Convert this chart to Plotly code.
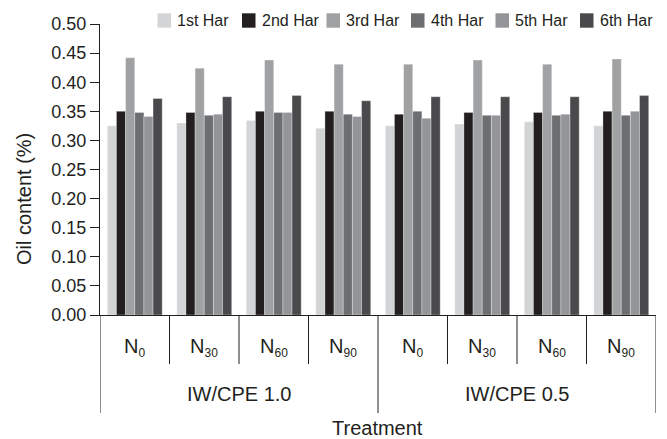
import plotly.graph_objects as go

treatments = ["IW/CPE 1.0"] * 4 + ["IW/CPE 0.5"] * 4
n_subs = ["0", "30", "60", "90"] * 2
cat_ids = [f"{t}|N{n}" for t, n in zip(treatments, n_subs)]

series_names = ["1st Har", "2nd Har", "3rd Har", "4th Har", "5th Har", "6th Har"]
har1 = [0.325, 0.330, 0.334, 0.321, 0.325, 0.328, 0.332, 0.325]
har2 = [0.350, 0.348, 0.350, 0.350, 0.345, 0.348, 0.348, 0.350]
har3 = [0.442, 0.424, 0.438, 0.431, 0.431, 0.438, 0.431, 0.440]
har4 = [0.348, 0.343, 0.348, 0.345, 0.350, 0.343, 0.343, 0.343]
har5 = [0.341, 0.345, 0.348, 0.341, 0.338, 0.343, 0.345, 0.350]
har6 = [0.372, 0.375, 0.377, 0.368, 0.375, 0.375, 0.375, 0.377]
series_values = [har1, har2, har3, har4, har5, har6]
colors = ["#d3d4d6", "#231f20", "#a0a1a3", "#6d6e70", "#939598", "#4a4a4c"]

y_ticks = [0.0, 0.05, 0.10, 0.15, 0.20, 0.25, 0.30, 0.35, 0.40, 0.45, 0.50]

FONT = "Liberation Sans, Arial, Helvetica, sans-serif"
INK = "#231f20"

W, H = 667, 439
ML, MR, MT, MB = 100, 11, 24, 124
PW, PH = W - ML - MR, H - MT - MB


def px_x(p):
    return (p - ML) / PW


def px_y(p):
    return (H - MB - p) / PH


fig = go.Figure()
for name, vals, c in zip(series_names, series_values, colors):
    fig.add_trace(go.Bar(
        x=cat_ids, y=vals, name=name, showlegend=False,
        marker=dict(color=c, line=dict(color="rgba(255,255,255,0.6)", width=0.5)),
    ))

annotations = []
shapes = []

# legend (drawn manually to match the compact swatch/text spacing)
leg_x0, leg_step, sw, leg_top, leg_bot = 157.5, 84.5, 13.5, 13.3, 27.7
for k, (name, c) in enumerate(zip(series_names, colors)):
    x0 = leg_x0 + k * leg_step
    shapes.append(dict(type="rect", xref="paper", yref="paper",
                       x0=px_x(x0), x1=px_x(x0 + sw), y0=px_y(leg_bot), y1=px_y(leg_top),
                       fillcolor=c, line=dict(width=0)))
    annotations.append(dict(x=px_x(x0 + sw + 4), y=px_y((leg_top + leg_bot) / 2),
                            xref="paper", yref="paper", text=name, showarrow=False,
                            xanchor="left", yanchor="middle",
                            font=dict(size=16, color=INK, family=FONT)))

# inner category labels
for i, n in enumerate(n_subs):
    annotations.append(dict(x=i, y=px_y(347), xref="x", yref="paper",
                            text=f"N<sub><span style='font-size:12px'>{n}</span></sub>",
                            showarrow=False, font=dict(size=20, color=INK, family=FONT),
                            xanchor="center", yanchor="middle"))
# outer group labels and dividers
groups = []
for i, t in enumerate(treatments):
    if not groups or groups[-1][0] != t:
        groups.append([t, i, i])
    else:
        groups[-1][2] = i
for t, a, b in groups:
    annotations.append(dict(x=(a + b) / 2, y=px_y(394), xref="x", yref="paper", text=t,
                            showarrow=False, font=dict(size=20, color=INK, family=FONT),
                            xanchor="center", yanchor="middle"))
    shapes.append(dict(type="line", xref="x", yref="paper", x0=b + 0.5, x1=b + 0.5,
                       y0=0, y1=px_y(413), line=dict(color=INK, width=1)))
shapes.append(dict(type="line", xref="x", yref="paper", x0=-0.5, x1=-0.5,
                   y0=0, y1=px_y(413), line=dict(color=INK, width=1)))
for i in range(len(cat_ids) - 1):
    if treatments[i] == treatments[i + 1]:
        shapes.append(dict(type="line", xref="x", yref="paper", x0=i + 0.5, x1=i + 0.5,
                           y0=0, y1=px_y(364), line=dict(color=INK, width=1)))

annotations.append(dict(x=px_x(377), y=px_y(428), xref="paper", yref="paper", text="Treatment",
                        showarrow=False, font=dict(size=20, color=INK, family=FONT),
                        xanchor="center", yanchor="middle"))
annotations.append(dict(x=px_x(24), y=px_y(199), xref="paper", yref="paper",
                        text="Oil content (%)", textangle=-90, showarrow=False,
                        font=dict(size=20, color=INK, family=FONT),
                        xanchor="center", yanchor="middle"))

fig.update_layout(
    width=W, height=H,
    margin=dict(l=ML, r=MR, t=MT, b=MB, autoexpand=False),
    paper_bgcolor="white", plot_bgcolor="white",
    font=dict(family=FONT, color=INK, size=18),
    barmode="group", bargap=0.21, bargroupgap=0,
    showlegend=False,
    annotations=annotations,
    shapes=shapes,
)
fig.update_xaxes(showticklabels=False, ticks="", showline=True, linecolor=INK,
                 linewidth=1, showgrid=False, zeroline=False,
                 range=[-0.5, len(cat_ids) - 0.5])
fig.update_yaxes(range=[0, 0.5], tickvals=y_ticks, tickformat=".2f", ticks="outside",
                 ticklen=9, tickcolor=INK, showline=True, linecolor=INK, linewidth=1,
                 showgrid=False, zeroline=False,
                 tickfont=dict(size=18, color=INK, family=FONT))

fig.write_html("out.html", config={"displayModeBar": False},
               post_script="document.body.style.margin='0';")
